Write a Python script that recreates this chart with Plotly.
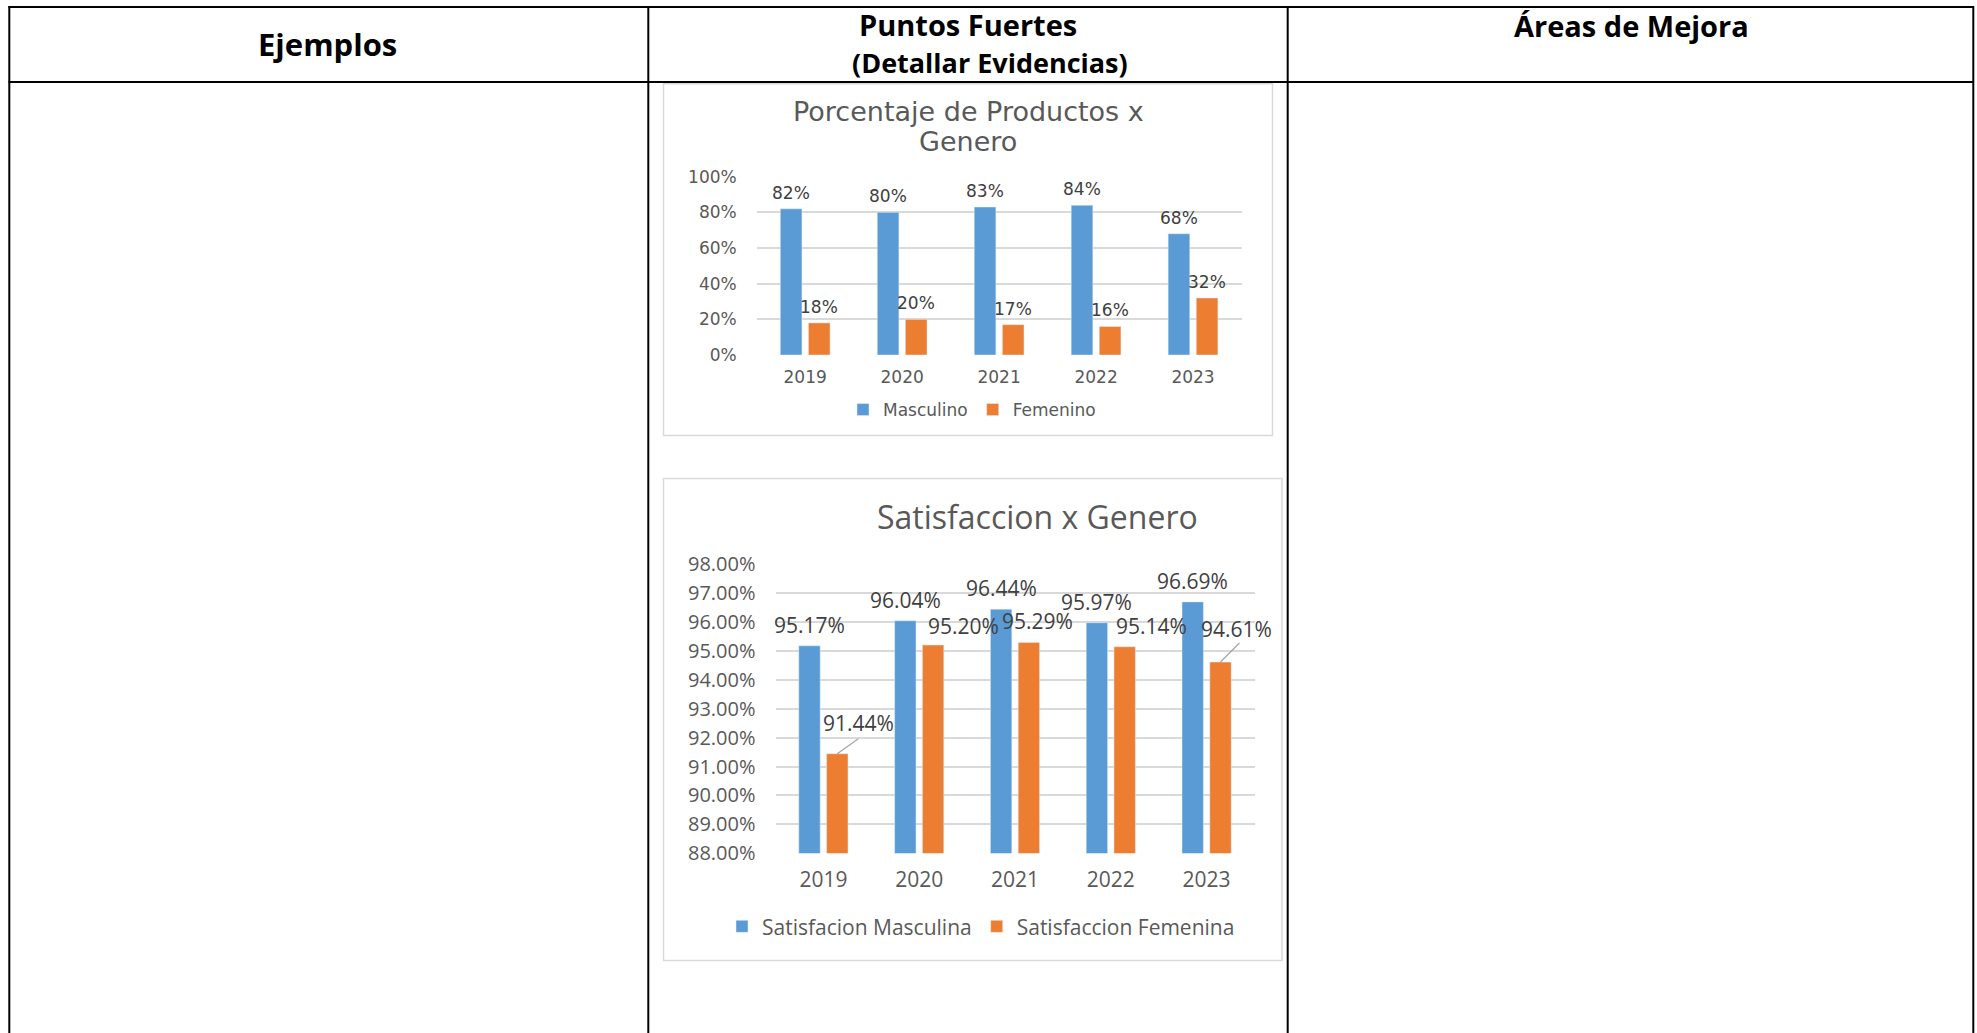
import plotly.graph_objects as go

# ---- data ----
years = ["2019", "2020", "2021", "2022", "2023"]
masculino = [82, 80, 83, 84, 68]
femenino = [18, 20, 17, 16, 32]
sat_masculina = [95.17, 96.04, 96.44, 95.97, 96.69]
sat_femenina = [91.44, 95.20, 95.29, 95.14, 94.61]
pct_ticks = [0, 20, 40, 60, 80, 100]
sat_ticks = [88, 89, 90, 91, 92, 93, 94, 95, 96, 97, 98]
headers = ["Ejemplos", "Puntos Fuertes", "(Detallar Evidencias)", "Áreas de Mejora"]

# ---- page geometry (pixels) ----
W, H = 1977, 1033
BLUE, ORANGE = "#5B9BD5", "#ED7D31"
GRID = "#d9d9d9"
AXTXT = "#595959"
LBLTXT = "#404040"
F1 = "DejaVu Sans"
F2 = "Open Sans"
BARGAP, GROUPGAP = 0.42, 0.23
HALF_SLOT = (1 - BARGAP) / 4  # offset of each bar centre from its category, in category units
CAT_RANGE = [-0.5, len(years) - 0.5]


def px(x):
    return x / W


def py(y):
    return 1 - y / H


fig = go.Figure()

# Chart 1: share of products by gender
fig.add_bar(x=years, y=masculino, name="Masculino", marker_color=BLUE,
            xaxis="x", yaxis="y", legend="legend")
fig.add_bar(x=years, y=femenino, name="Femenino", marker_color=ORANGE,
            xaxis="x", yaxis="y", legend="legend")

# Chart 2: satisfaction by gender
fig.add_bar(x=years, y=sat_masculina, name="Satisfacion Masculina", marker_color=BLUE,
            xaxis="x2", yaxis="y2", legend="legend2")
fig.add_bar(x=years, y=sat_femenina, name="Satisfaccion Femenina", marker_color=ORANGE,
            xaxis="x2", yaxis="y2", legend="legend2")

annotations = []
shapes = []

# data labels, chart 1
for i, (m, f) in enumerate(zip(masculino, femenino)):
    for val, side in ((m, -1), (f, 1)):
        annotations.append(dict(
            x=i + side * HALF_SLOT, y=val, xref="x", yref="y",
            text=f"{val}%", showarrow=False, xanchor="center", yanchor="middle", yshift=16,
            font=dict(family=F1, size=17, color=LBLTXT)))

# data labels, chart 2 (orange labels are nudged sideways to avoid overlap)
fem_label_shift = [(21, 31), (30, 19), (9, 21), (27, 21), (16, 33)]
fem_leader = [(21, 15), None, None, None, (19, 19)]
for i, (m, f) in enumerate(zip(sat_masculina, sat_femenina)):
    annotations.append(dict(
        x=i - HALF_SLOT, y=m, xref="x2", yref="y2",
        text=f"{m:.2f}%", showarrow=False, xanchor="center", yanchor="middle", yshift=21,
        font=dict(family=F2, size=21, color=LBLTXT)))
    dx, dy = fem_label_shift[i]
    annotations.append(dict(
        x=i + HALF_SLOT, y=f, xref="x2", yref="y2",
        text=f"{f:.2f}%", showarrow=False, xanchor="center", yanchor="middle",
        xshift=dx, yshift=dy, font=dict(family=F2, size=21, color=LBLTXT)))
    if fem_leader[i]:
        lx, ly = fem_leader[i]
        shapes.append(dict(
            type="line", xref="x2", yref="y2", xsizemode="pixel", ysizemode="pixel",
            xanchor=i + HALF_SLOT, yanchor=f, x0=0, y0=0, x1=lx, y1=ly,
            line=dict(color="#a6a6a6", width=1.3)))


def paper_text(x, y, text, font):
    return dict(x=px(x), y=py(y), xref="paper", yref="paper", text=text,
                showarrow=False, xanchor="center", yanchor="middle", borderpad=0, font=font)


# chart titles
annotations += [
    paper_text(968, 112, "Porcentaje de Productos x", dict(family=F1, size=27, color=AXTXT)),
    paper_text(968, 142, "Genero", dict(family=F1, size=27, color=AXTXT)),
    paper_text(1037, 516.5, "Satisfaccion x Genero", dict(family=F2, size=32, color=AXTXT)),
]

# table header text
annotations += [
    paper_text(327.5, 44.5, headers[0], dict(family=F2, size=31, color="black", weight="bold")),
    paper_text(968, 25, headers[1], dict(family=F2, size=29, color="black", weight="bold")),
    paper_text(990, 63, headers[2], dict(family=F2, size=27, color="black", weight="bold")),
    paper_text(1631, 25.5, headers[3], dict(family=F2, size=29, color="black", weight="bold")),
]

# table grid
TL = dict(color="black", width=2)
for yline in (7, 82):
    shapes.append(dict(type="line", xref="paper", yref="paper",
                       x0=px(8.5), x1=px(1974), y0=py(yline), y1=py(yline), line=TL))
for xline in (9.3, 648.3, 1287.7, 1973.3):
    shapes.append(dict(type="line", xref="paper", yref="paper",
                       x0=px(xline), x1=px(xline), y0=py(6), y1=py(H + 5), line=TL))

# chart frames
for (x0, y0, x1, y1) in ((663.5, 83.8, 1272.5, 435.5), (663.5, 478.5, 1282, 960.5)):
    shapes.append(dict(type="rect", xref="paper", yref="paper",
                       x0=px(x0), x1=px(x1), y0=py(y1), y1=py(y0),
                       line=dict(color=GRID, width=1.5), fillcolor="rgba(0,0,0,0)", layer="below"))

fig.update_layout(
    width=W, height=H,
    margin=dict(l=0, r=0, t=0, b=0, autoexpand=False),
    paper_bgcolor="white", plot_bgcolor="white",
    barmode="group", bargap=BARGAP, bargroupgap=GROUPGAP,
    showlegend=True,
    xaxis=dict(domain=[px(756.7), px(1241.5)], anchor="y", type="category", range=CAT_RANGE,
               showline=False, ticks="", showgrid=False, zeroline=False,
               ticklabelstandoff=10, tickfont=dict(family=F1, size=17, color=AXTXT)),
    yaxis=dict(domain=[py(355), py(176.7)], anchor="x", range=[0, 100],
               tickmode="array", tickvals=pct_ticks,
               ticktext=[f"{v}%" for v in pct_ticks], showline=False, ticks="",
               showgrid=True, gridcolor=GRID, gridwidth=1.5, zeroline=False,
               ticklabelstandoff=19, tickfont=dict(family=F1, size=17, color=AXTXT)),
    xaxis2=dict(domain=[px(775.5), px(1254.5)], anchor="y2", type="category", range=CAT_RANGE,
                showline=False, ticks="", showgrid=False, zeroline=False,
                ticklabelstandoff=12, tickfont=dict(family=F2, size=21, color=AXTXT)),
    yaxis2=dict(domain=[py(853.3), py(564)], anchor="x2", range=[88, 98],
                tickmode="array", tickvals=sat_ticks,
                ticktext=[f"{v:.2f}%" for v in sat_ticks], showline=False,
                ticks="", showgrid=True, gridcolor=GRID, gridwidth=1.5, zeroline=False,
                ticklabelstandoff=19, tickfont=dict(family=F2, size=20, color=AXTXT)),
    legend=dict(orientation="h", x=px(972), xanchor="center", y=py(410), yanchor="middle",
                font=dict(family=F1, size=17, color=AXTXT), bgcolor="rgba(0,0,0,0)",
                itemwidth=30, itemclick=False),
    legend2=dict(orientation="h", x=px(981), xanchor="center", y=py(926.7), yanchor="middle",
                 font=dict(family=F2, size=21, color=AXTXT), bgcolor="rgba(0,0,0,0)",
                 itemwidth=30, itemclick=False),
    annotations=annotations,
    shapes=shapes,
)

fig.write_html("out.html", config={"displayModeBar": False})
